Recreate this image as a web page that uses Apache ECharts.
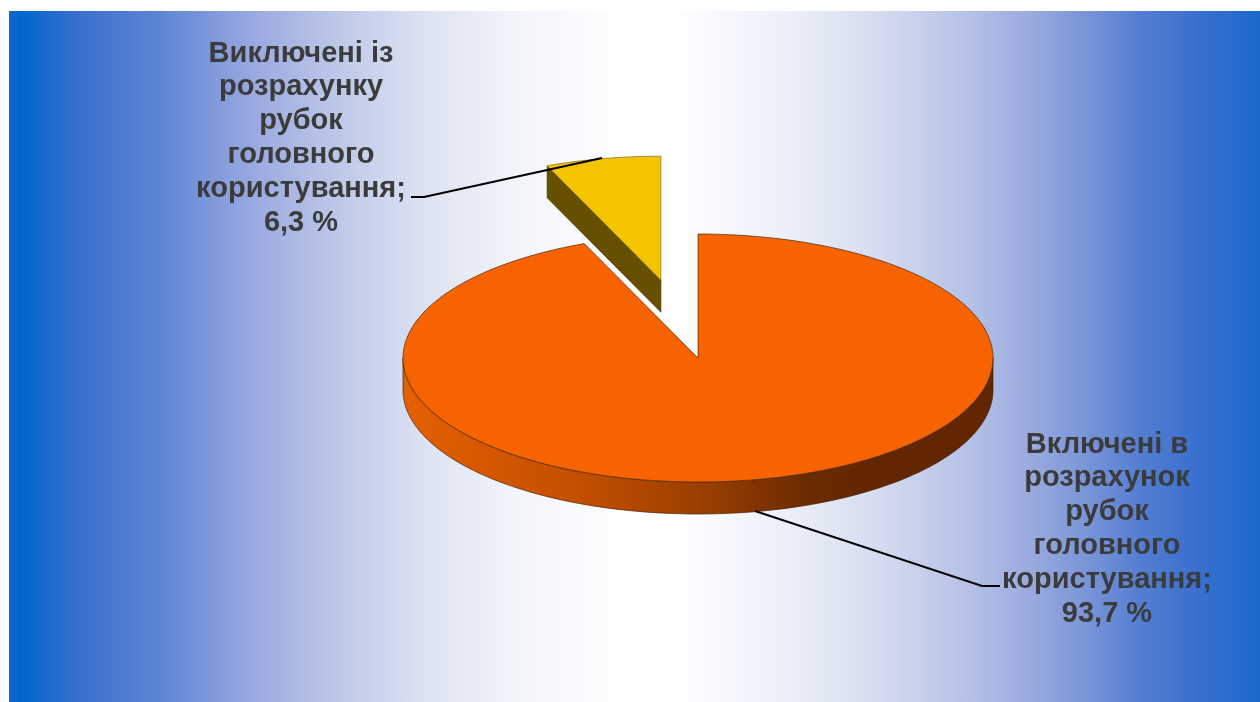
<!DOCTYPE html>
<html><head><meta charset="utf-8">
<style>html,body{margin:0;padding:0;background:#fff}#c{width:1260px;height:702px}</style>
<script src="https://cdn.jsdelivr.net/npm/echarts@6/dist/echarts.min.js"></script>
</head><body><div id="c"></div>
<script>
const categories = ['Включені в\nрозрахунок\nрубок\nголовного\nкористування;', 'Виключені із\nрозрахунку\nрубок\nголовного\nкористування;'];
const values = [93.7, 6.3];
const valueLabels = ['93,7 %', '6,3 %'];
const explode = [0, 0.64];
const topColors = ['#F76300', '#F5C400'];

const CX = 698, CY = 358, RX = 295, RY = 124, DEPTH = 32;
const labelPos = [[1107, 529], [301, 138]];
const leaders = [[[755, 511], [982, 586], [1000, 586]], [[602, 158], [424, 197], [411, 197]]];
const total = values.reduce((a, b) => a + b, 0);

function pt(cx, cy, deg, dy) {
  const a = deg * Math.PI / 180;
  return [cx + RX * Math.sin(a), cy - RY * Math.cos(a) + (dy || 0)];
}
function arc(cx, cy, a0, a1, dy) {
  const out = [], n = Math.max(2, Math.ceil(Math.abs(a1 - a0) / 1.5));
  for (let i = 0; i <= n; i++) out.push(pt(cx, cy, a0 + (a1 - a0) * i / n, dy));
  return out;
}
const sideGrad = { type: 'linear', global: true, x: 403, y: 0, x2: 993, y2: 0, colorStops: [
  { offset: 0, color: '#E56000' }, { offset: 0.3, color: '#C24F00' },
  { offset: 0.5, color: '#9C3F00' }, { offset: 0.68, color: '#6C2B00' },
  { offset: 0.78, color: '#622700' }, { offset: 1, color: '#622700' }] };

function renderItem(params, api) {
  const i = params.dataIndex;
  let start = 0;
  for (let k = 0; k < i; k++) start += values[k];
  const a0 = start / total * 360, a1 = (start + api.value(0)) / total * 360;
  const mid = (a0 + a1) / 2 * Math.PI / 180;
  const d = explode[i];
  const cx = CX + RX * d * Math.sin(mid), cy = CY - RY * d * Math.cos(mid);
  const children = [];
  const edge = i === 0 ? '#4a2a10' : '#7a6a30';
  const w0 = Math.max(a0, 90), w1 = Math.min(a1, 270);
  if (w1 > w0) {
    children.push({ type: 'polygon', shape: { points: arc(cx, cy, w0, w1, 0).concat(arc(cx, cy, w1, w0, DEPTH)) },
      style: { fill: sideGrad, stroke: '#4a2000', lineWidth: 0.7 } });
  }
  if (i === 1) {
    const p = pt(cx, cy, a0);
    children.push({ type: 'polygon', shape: { points: [[cx, cy], p, [p[0], p[1] + DEPTH], [cx, cy + DEPTH]] },
      style: { fill: '#665000', stroke: '#4a3c00', lineWidth: 0.7 } });
  }
  children.push({ type: 'polygon', shape: { points: [[cx, cy]].concat(arc(cx, cy, a0, a1, 0)) },
    style: { fill: topColors[i], stroke: edge, lineWidth: 0.7 } });
  children.push({ type: 'polyline', shape: { points: leaders[i] },
    style: { fill: null, stroke: '#000', lineWidth: 1.9 }, z2: 10 });
  children.push({ type: 'text', x: labelPos[i][0], y: labelPos[i][1], z2: 10,
    style: { text: categories[i] + '\n' + valueLabels[i], fill: '#3B3B3B', align: 'center', verticalAlign: 'middle',
      font: 'bold 29px "Liberation Sans", Arial, sans-serif', lineHeight: 33.8 } });
  return { type: 'group', children };
}

const bgStops = [[9,'#1268CC'],[20,'#0066CC'],[80,'#3A70CF'],[161,'#5E85D4'],[254,'#9AA9E0'],[343,'#BFCAE9'],[424,'#DDE2F2'],[516,'#F3F5FB'],[630,'#FFFFFF'],[670,'#FFFFFF'],[779,'#EEF1FA'],[872,'#D8DEF0'],[973,'#B3C0E6'],[1033,'#99A9DD'],[1085,'#7A95D8'],[1142,'#537DD2'],[1195,'#3A70CF'],[1260,'#1A68CC']];

const chart = echarts.init(document.getElementById('c'), null, { renderer: 'canvas' });
chart.setOption({
  animation: false,
  backgroundColor: '#fff',
  graphic: [{ type: 'rect', z: -10, silent: true, shape: { x: 9, y: 11, width: 1251, height: 691 },
    style: { fill: { type: 'linear', x: 0, y: 0, x2: 1, y2: 0,
      colorStops: bgStops.map(s => ({ offset: (s[0] - 9) / 1251, color: s[1] })) } } }],
  series: [{ type: 'custom', coordinateSystem: 'none', silent: true, clip: false,
    renderItem, encode: { value: 0 }, data: values.map((v, i) => ({ name: categories[i], value: [v] })) }]
});
</script></body></html>
